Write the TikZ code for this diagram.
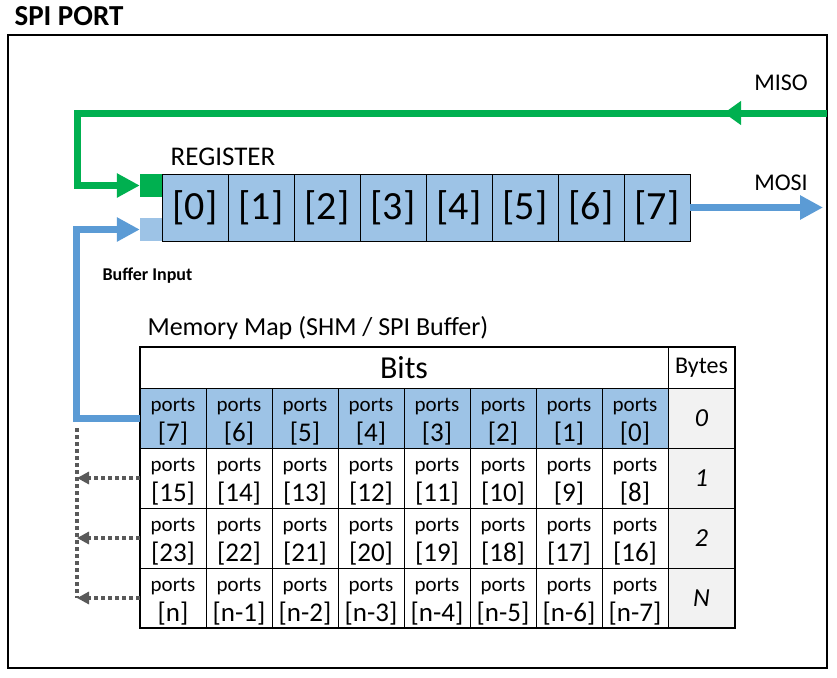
\documentclass[tikz,border=0pt]{standalone}
\usepackage{fontspec}
\setmainfont{Carlito}
\usetikzlibrary{arrows.meta}

\definecolor{misogreen}{HTML}{00B050}
\definecolor{mosiblue}{HTML}{5B9BD5}
\definecolor{regblue}{HTML}{9DC3E6}
\definecolor{bytegrey}{HTML}{F2F2F2}
\definecolor{dotgrey}{HTML}{595959}
\newcommand{\fsz}[1]{\fontsize{#1}{#1}\selectfont}
\newcommand{\portcell}[1]{\rule{0pt}{20pt}ports\\[0pt]{\fsz{27}[#1]}}

\tikzset{
  regcell/.style={draw, line width=0.8pt, fill=regblue, minimum width=66pt, minimum height=67pt, inner sep=0pt, font=\fsz{40}},
  mapcell/.style={draw, line width=0.8pt, minimum width=66pt, minimum height=60pt, inner sep=0pt, align=center, font=\fontsize{21}{30}\selectfont},
  bytecell/.style={draw, line width=0.8pt, fill=bytegrey, minimum width=67pt, minimum height=60pt, inner sep=0pt, font=\fsz{26}\itshape},
  wire/.style={line width=7pt},
  dotwire/.style={dotgrey, line width=3.5pt, dash pattern=on 4pt off 3pt},
}

\begin{document}
\begin{tikzpicture}[x=1pt, y=-1pt]
    \useasboundingbox (0,0) rectangle (837,677);
    \draw [line width=2pt] (8,35) rectangle (827,668);
    \node [anchor=west, font=\fsz{29}\bfseries] (title) at (11,16.5) {SPI PORT};

    % shift register
    \foreach \i in {0,...,7}
        \node [regcell] (r\i) at ({195+66*\i},207.5) {[\i]};
    \node [fill=misogreen, minimum width=22pt, minimum height=23pt, inner sep=0pt] (gin) at (151,185.5) {};
    \node [fill=regblue, minimum width=22pt, minimum height=23pt, inner sep=0pt] (bin) at (151,229.5) {};
    \node [font=\fsz{27}] (reglbl) at (223,157) {REGISTER};
    \node [anchor=west, font=\fsz{18}\bfseries] (buflbl) at (99,276) {Buffer Input};

    % MISO / MOSI
    \coordinate (misoin) at (827,113);
    \coordinate (misotip) at (724,113);
    \coordinate (mosiout) at (823,207.5);
    \draw [wire, misogreen, -{Triangle[length=23pt,width=23pt]}] (misoin) -- (77,113) |- (gin.west);
    \draw [wire, misogreen, -{Triangle[length=17pt,width=23pt]}] (misoin) -- (misotip);
    \draw [wire, mosiblue, -{Triangle[length=23pt,width=23pt]}] (r7.east) -- (mosiout);
    \node [font=\fsz{24}] (misolbl) at (781,82.5) {MISO};
    \node [font=\fsz{24}] (mosilbl) at (781,182.5) {MOSI};

    % memory map
    \node [anchor=west, font=\fsz{26}] (maplbl) at (144,328) {Memory Map (SHM / SPI Buffer)};
    \node [draw, line width=0.8pt, minimum width=528pt, minimum height=41pt, inner sep=0pt, font=\fsz{32}] (bits) at (404,367.5) {Bits};
    \node [draw, line width=0.8pt, minimum width=67pt, minimum height=41pt, inner sep=0pt, font=\fsz{24}] (bytes) at (701.5,367.5) {Bytes};
    \foreach \c in {0,...,7} {
        \pgfmathtruncatemacro{\bit}{7-\c}
        \node [mapcell, fill=regblue] (m0-\c) at ({173+66*\c},418) {\portcell{\bit}};
    }
    \foreach \r in {1,2} {
        \foreach \c in {0,...,7} {
            \pgfmathtruncatemacro{\bit}{8*\r+7-\c}
            \node [mapcell] (m\r-\c) at ({173+66*\c},{418+60*\r}) {\portcell{\bit}};
        }
    }
    \node [mapcell] (m3-0) at (173,598) {\portcell{n}};
    \foreach \c in {1,...,7}
        \node [mapcell] (m3-\c) at ({173+66*\c},598) {\portcell{n-\c}};
    \foreach \r/\b in {0/0,1/1,2/2,3/N}
        \node [bytecell] (b\r) at (701.5,{418+60*\r}) {\b};
    \draw [line width=2pt] (bits.north west) rectangle (b3.south east);

    % buffer input and spare rows
    \draw [wire, mosiblue, -{Triangle[length=23pt,width=23pt]}] (m0-0.west) -- ++(-63,0) |- (bin.west);
    \coordinate (dtop) at (77,428);
    \foreach \r in {1,2,3} {
        \coordinate (d\r) at (77,{418+60*\r});
        \draw [dotwire, -{Triangle[length=12pt,width=12pt]}] (m\r-0.west) -- (d\r);
    }
    \draw [dotwire] (dtop) -- (d3);
\end{tikzpicture}
\end{document}
